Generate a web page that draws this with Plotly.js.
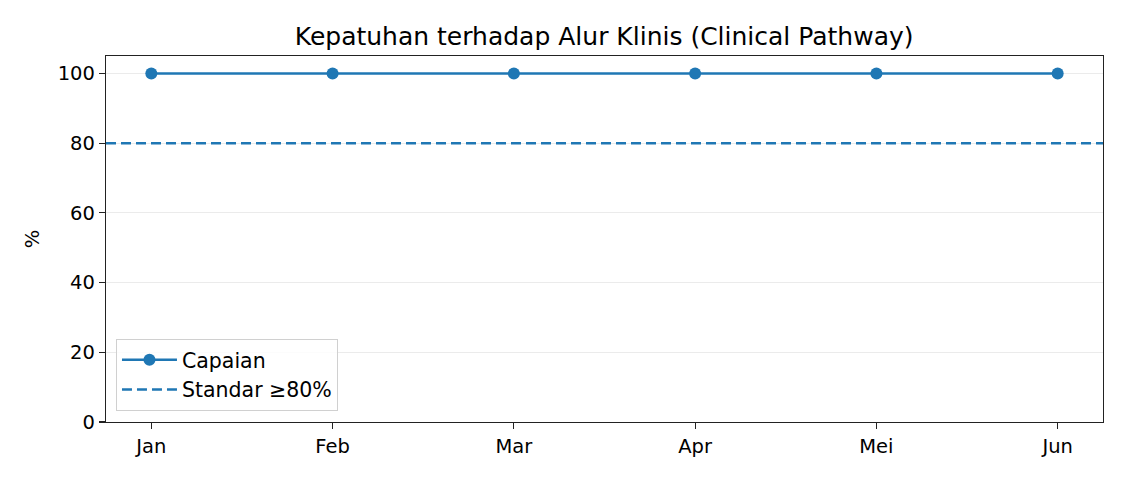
<!DOCTYPE html>
<html>
<head>
<meta charset="utf-8">
<script src="https://cdn.plot.ly/plotly-3.0.1.min.js"></script>
<style>html,body{margin:0;padding:0;background:#fff;}#chart{width:1125px;height:480px;}</style>
</head>
<body>
<div id="chart"></div>
<script>
const months = ["Jan", "Feb", "Mar", "Apr", "Mei", "Jun"];
const capaian = [100, 100, 100, 100, 100, 100];
const standard = 80;
const yTicks = [0, 20, 40, 60, 80, 100];
const titleText = "Kepatuhan terhadap Alur Klinis (Clinical Pathway)";

const blue = "#1f77b4";
const font = "DejaVu Sans, sans-serif";

const traces = [
  {
    x: months, y: capaian, name: "Capaian", type: "scatter", mode: "lines+markers",
    line: {color: blue, width: 2.5},
    marker: {color: blue, size: 12}
  },
  {
    x: [0, 1], y: [standard, standard], name: "Standar \u226580%", type: "scatter", mode: "lines",
    xaxis: "x2",
    line: {color: blue, width: 2.5, dash: "10px,5px"}
  }
];

const layout = {
  width: 1125, height: 480,
  margin: {l: 106, r: 22, t: 56, b: 58},
  paper_bgcolor: "#fff", plot_bgcolor: "#fff",
  font: {family: font, size: 19.5, color: "#000"},
  title: {text: titleText, font: {family: font, size: 25, color: "#000"}, x: 0.537, xanchor: "center", y: 0.925, yanchor: "middle"},
  xaxis: {
    type: "category", range: [-0.25, 5.25],
    showline: true, mirror: true, linecolor: "#222", linewidth: 1.2,
    ticks: "outside", ticklen: 6, tickcolor: "#222", tickwidth: 1.2,
    showgrid: false, zeroline: false,
    tickfont: {family: font, size: 19.5, color: "#000"}
  },
  xaxis2: {overlaying: "x", range: [0, 1], visible: false, fixedrange: true},
  yaxis: {
    range: [0, 105], tickvals: yTicks,
    showline: true, mirror: true, linecolor: "#222", linewidth: 1.2,
    ticks: "outside", ticklen: 6, tickcolor: "#222", tickwidth: 1.2,
    showgrid: true, gridcolor: "#ebebeb", gridwidth: 1, zeroline: false,
    tickfont: {family: font, size: 19.5, color: "#000"},
    title: {text: "%", font: {family: font, size: 19.5, color: "#000"}, standoff: 12}
  },
  legend: {
    x: 0.01, y: 0.03, xanchor: "left", yanchor: "bottom",
    bgcolor: "rgba(255,255,255,0.85)", bordercolor: "#d0d0d0", borderwidth: 1,
    font: {family: font, size: 20.5, color: "#000"},
    itemwidth: 55
  },
  showlegend: true
};

Plotly.newPlot("chart", traces, layout, {displayModeBar: false, staticPlot: true});
</script>
</body>
</html>
